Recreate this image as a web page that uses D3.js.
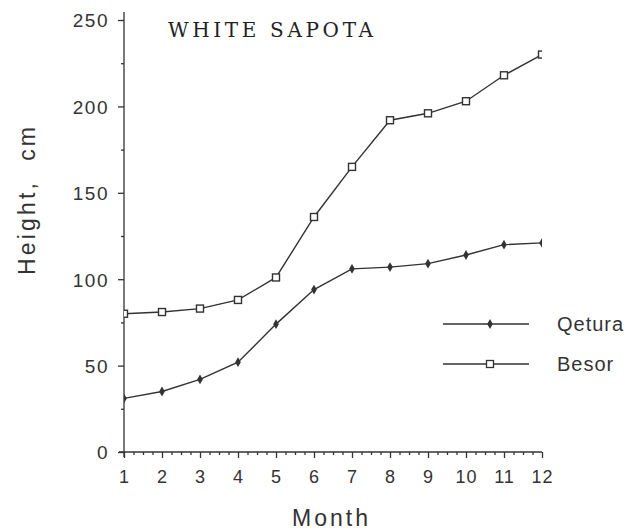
<!DOCTYPE html>
<html lang="en">
<head>
<meta charset="UTF-8">
<title>White Sapota</title>
<script src="https://d3js.org/d3.v7.min.js"></script>
<style>
  body { margin: 0; background: #fff; }
  svg { display: block; }
  .tick text { font-family: "Liberation Sans", Arial, sans-serif; fill: #333; }
  .domain, .tick line { stroke: #333; stroke-width: 1.3; }
</style>
</head>
<body>
<svg width="627" height="532"></svg>
<script>
// data
const months = [1, 2, 3, 4, 5, 6, 7, 8, 9, 10, 11, 12];
const qetura = [31, 35, 42, 52, 74, 94, 106, 107, 109, 114, 120, 121];
const besor  = [80, 81, 83, 88, 101, 136, 165, 192, 196, 203, 218, 230];
const yTicks = [0, 50, 100, 150, 200, 250];
const title = "WHITE SAPOTA";

const svg = d3.select("svg");
const ink = "#333";

const x = d3.scaleLinear().domain([1, 12]).range([124, 542]);
const y = d3.scaleLinear().domain([0, 250]).range([452, 20]);

// y axis: minor ticks first, then majors with labels
svg.append("g")
  .attr("transform", "translate(124,0)")
  .call(d3.axisLeft(y).tickValues(d3.range(25, 250, 50)).tickSize(3).tickFormat(""))
  .call(g => g.select(".domain").remove());

const yAxis = svg.append("g")
  .attr("transform", "translate(124,0)")
  .call(d3.axisLeft(y).tickValues(yTicks).tickSizeOuter(0).tickSize(6).tickPadding(9));
yAxis.select(".domain").attr("d", "M0,12V457");
yAxis.selectAll(".tick text").attr("font-size", 19).attr("letter-spacing", 1.5).attr("dy", "0.36em");

// x axis: minor ticks (quarters), then majors
svg.append("g")
  .attr("transform", "translate(0,452)")
  .call(d3.axisBottom(x).tickValues(d3.range(1, 12.01, 0.25).filter(d => d % 1 !== 0)).tickSize(3).tickFormat(""))
  .call(g => g.select(".domain").remove());

const xAxis = svg.append("g")
  .attr("transform", "translate(0,452)")
  .call(d3.axisBottom(x).tickValues(months).tickSizeOuter(0).tickSize(6).tickPadding(12));
xAxis.select(".domain").attr("d", "M119,0H542");
xAxis.selectAll(".tick text").attr("font-size", 18).attr("letter-spacing", 1);

// lines
const line = vals => d3.line().x((d, i) => x(months[i])).y(d => y(d))(vals);
svg.append("path").attr("d", line(besor)).attr("fill", "none").attr("stroke", ink).attr("stroke-width", 1.4);
svg.append("path").attr("d", line(qetura)).attr("fill", "none").attr("stroke", ink).attr("stroke-width", 1.4);

svg.append("clipPath").attr("id", "plot")
  .append("rect").attr("x", 124).attr("y", 0).attr("width", 418).attr("height", 460);

const marks = svg.append("g").attr("clip-path", "url(#plot)");
marks.selectAll(".sq").data(besor).enter().append("rect")
  .attr("x", (d, i) => x(months[i]) - 3.5).attr("y", d => y(d) - 3.5)
  .attr("width", 7).attr("height", 7)
  .attr("fill", "#fff").attr("stroke", ink).attr("stroke-width", 1.4);
marks.selectAll(".dm").data(qetura).enter().append("path")
  .attr("d", d3.symbol(d3.symbolDiamond, 28))
  .attr("transform", (d, i) => `translate(${x(months[i])},${y(d)})`)
  .attr("fill", ink);

// legend
const legend = [
  { name: "Qetura", yy: 324, sym: "dm" },
  { name: "Besor", yy: 364, sym: "sq" }
];
const lg = svg.append("g").selectAll("g").data(legend).enter().append("g")
  .attr("transform", d => `translate(0,${d.yy})`);
lg.append("line").attr("x1", 443).attr("x2", 529).attr("stroke", ink).attr("stroke-width", 1.3);
lg.filter(d => d.sym === "dm").append("path")
  .attr("d", d3.symbol(d3.symbolDiamond, 28)).attr("transform", "translate(490,0)").attr("fill", ink);
lg.filter(d => d.sym === "sq").append("rect")
  .attr("x", 486.5).attr("y", -3.5).attr("width", 7).attr("height", 7)
  .attr("fill", "#fff").attr("stroke", ink).attr("stroke-width", 1.3);
lg.append("text").text(d => d.name)
  .attr("x", 557).attr("y", 7)
  .attr("font-family", "Liberation Sans, Arial, sans-serif").attr("font-size", 20)
  .attr("letter-spacing", 1).attr("fill", ink);

// titles
svg.append("text").text(title)
  .attr("x", 168).attr("y", 37)
  .attr("font-family", "DejaVu Serif, serif").attr("font-size", 20)
  .attr("textLength", 205).attr("lengthAdjust", "spacing").attr("fill", "#222");

svg.append("text").text("Height,  cm")
  .attr("transform", "translate(35,201) rotate(-90)")
  .attr("text-anchor", "middle")
  .attr("font-family", "Liberation Sans, Arial, sans-serif").attr("font-size", 23)
  .attr("textLength", 148).attr("lengthAdjust", "spacing").attr("fill", ink)
  .style("white-space", "pre");

svg.append("text").text("Month")
  .attr("x", 330).attr("y", 526)
  .attr("text-anchor", "middle")
  .attr("font-family", "Liberation Sans, Arial, sans-serif").attr("font-size", 23)
  .attr("textLength", 76).attr("lengthAdjust", "spacing").attr("fill", ink);
</script>
</body>
</html>
